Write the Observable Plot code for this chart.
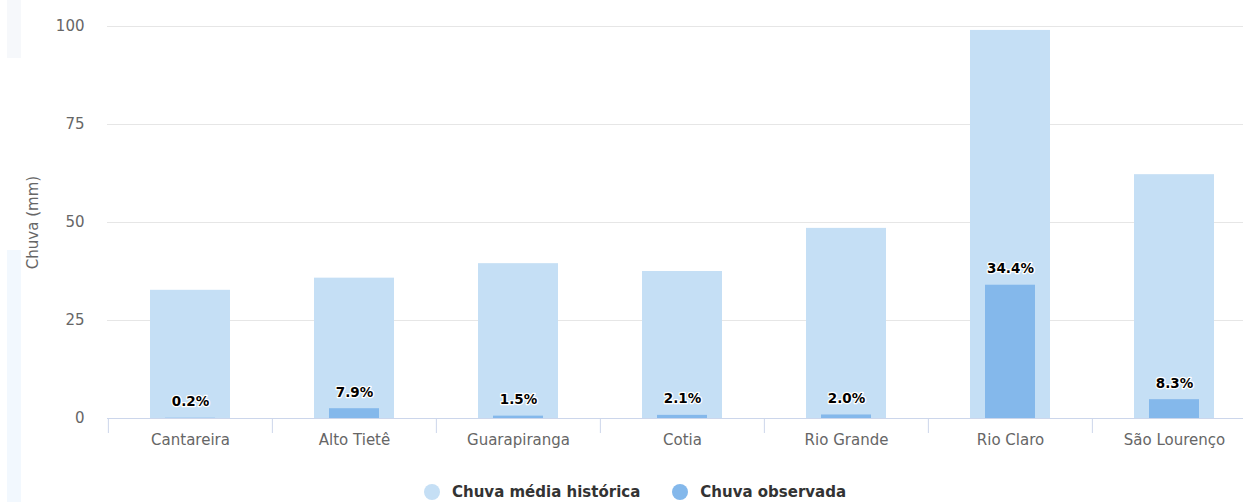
<!DOCTYPE html>
<html>
<head>
<meta charset="utf-8">
<script src="https://cdn.jsdelivr.net/npm/d3@7"></script>
<script src="https://cdn.jsdelivr.net/npm/@observablehq/plot@0.6"></script>
<style>
  html, body { margin: 0; padding: 0; background: #fff; }
  #wrap { position: relative; width: 1243px; height: 502px; overflow: hidden; font-family: "DejaVu Sans", sans-serif; }
  #strip1 { position: absolute; left: 7px; top: 0; width: 14px; height: 58px; background: #f6f8fb; }
  #strip2 { position: absolute; left: 7px; top: 250px; width: 14px; height: 252px; background: #f2f8fe; }
  #chart { position: absolute; left: 0; top: 0; }
  #legend { position: absolute; left: 0; top: 480px; width: 1243px; height: 24px; display: flex; justify-content: flex-start; align-items: center; box-sizing: border-box; padding-left: 424px; }
  .item { display: flex; align-items: center; font-weight: bold; font-size: 15px; color: #333; }
  .dot { width: 16px; height: 16px; border-radius: 50%; margin-right: 12px; }
</style>
</head>
<body>
<div id="wrap">
  <div id="strip1"></div>
  <div id="strip2"></div>
  <div id="chart"></div>
  <div id="legend"></div>
</div>
<script>
const categories = ["Cantareira", "Alto Tietê", "Guarapiranga", "Cotia", "Rio Grande", "Rio Claro", "São Lourenço"];
const historica = [32.7, 35.8, 39.5, 37.5, 48.5, 99.0, 62.2];
const observada = [0.07, 2.5, 0.6, 0.8, 0.9, 34.0, 4.8];
const percentLabels = ["0.2%", "7.9%", "1.5%", "2.1%", "2.0%", "34.4%", "8.3%"];
const yTicks = [0, 25, 50, 75, 100];
const seriesNames = ["Chuva média histórica", "Chuva observada"];
const seriesColors = ["#c5dff5", "#84b8eb"];

const data = categories.map((c, i) => ({cat: c, hist: historica[i], obs: observada[i], pct: percentLabels[i]}));

const chart = Plot.plot({
  width: 1243,
  height: 478,
  marginTop: 26,
  marginBottom: 60,
  marginLeft: 107,
  marginRight: 0,
  style: {fontFamily: "DejaVu Sans, sans-serif", background: "transparent"},
  x: {domain: categories, range: [107, 1257], padding: 0},
  y: {domain: [0, 100]},
  marks: [
    Plot.gridY(yTicks.filter(t => t > 0), {stroke: "#e6e6e6", strokeOpacity: 1}),
    Plot.barY(data, {x: "cat", y: "hist", fill: seriesColors[0], insetLeft: 42, insetRight: 42}),
    Plot.barY(data, {x: "cat", y: "obs", fill: seriesColors[1], insetLeft: 57, insetRight: 57}),
    Plot.ruleY([0], {stroke: "#ccd6eb"}),
    Plot.axisY({ticks: yTicks, tickSize: 0, tickPadding: 23, fontSize: 15, fill: "#666", label: null}),
    Plot.text(["Chuva (mm)"], {frameAnchor: "left", textAnchor: "middle", dx: -74, rotate: -90, fontSize: 15, fill: "#666", text: d => d}),
    Plot.axisX({tickSize: 0, tickPadding: 16, fontSize: 15, fill: "#666", label: null}),
    Plot.axisX({tickSize: 15, tickFormat: () => "", dx: -82.14, stroke: "#ccd6eb", strokeOpacity: 1, label: null}),
    Plot.text(data, {x: "cat", y: "obs", text: "pct", dy: -12, lineAnchor: "bottom", fontSize: 13.5, fontWeight: "bold", fill: "#000", stroke: "#fff", strokeWidth: 2.5, paintOrder: "stroke"})
  ]
});
document.getElementById("chart").appendChild(chart);

const legend = document.getElementById("legend");
seriesNames.forEach((name, i) => {
  const item = document.createElement("div");
  item.className = "item";
  item.style.marginRight = i === 0 ? "32px" : "0";
  const dot = document.createElement("span");
  dot.className = "dot";
  dot.style.background = seriesColors[i];
  item.appendChild(dot);
  item.appendChild(document.createTextNode(name));
  legend.appendChild(item);
});
</script>
</body>
</html>
